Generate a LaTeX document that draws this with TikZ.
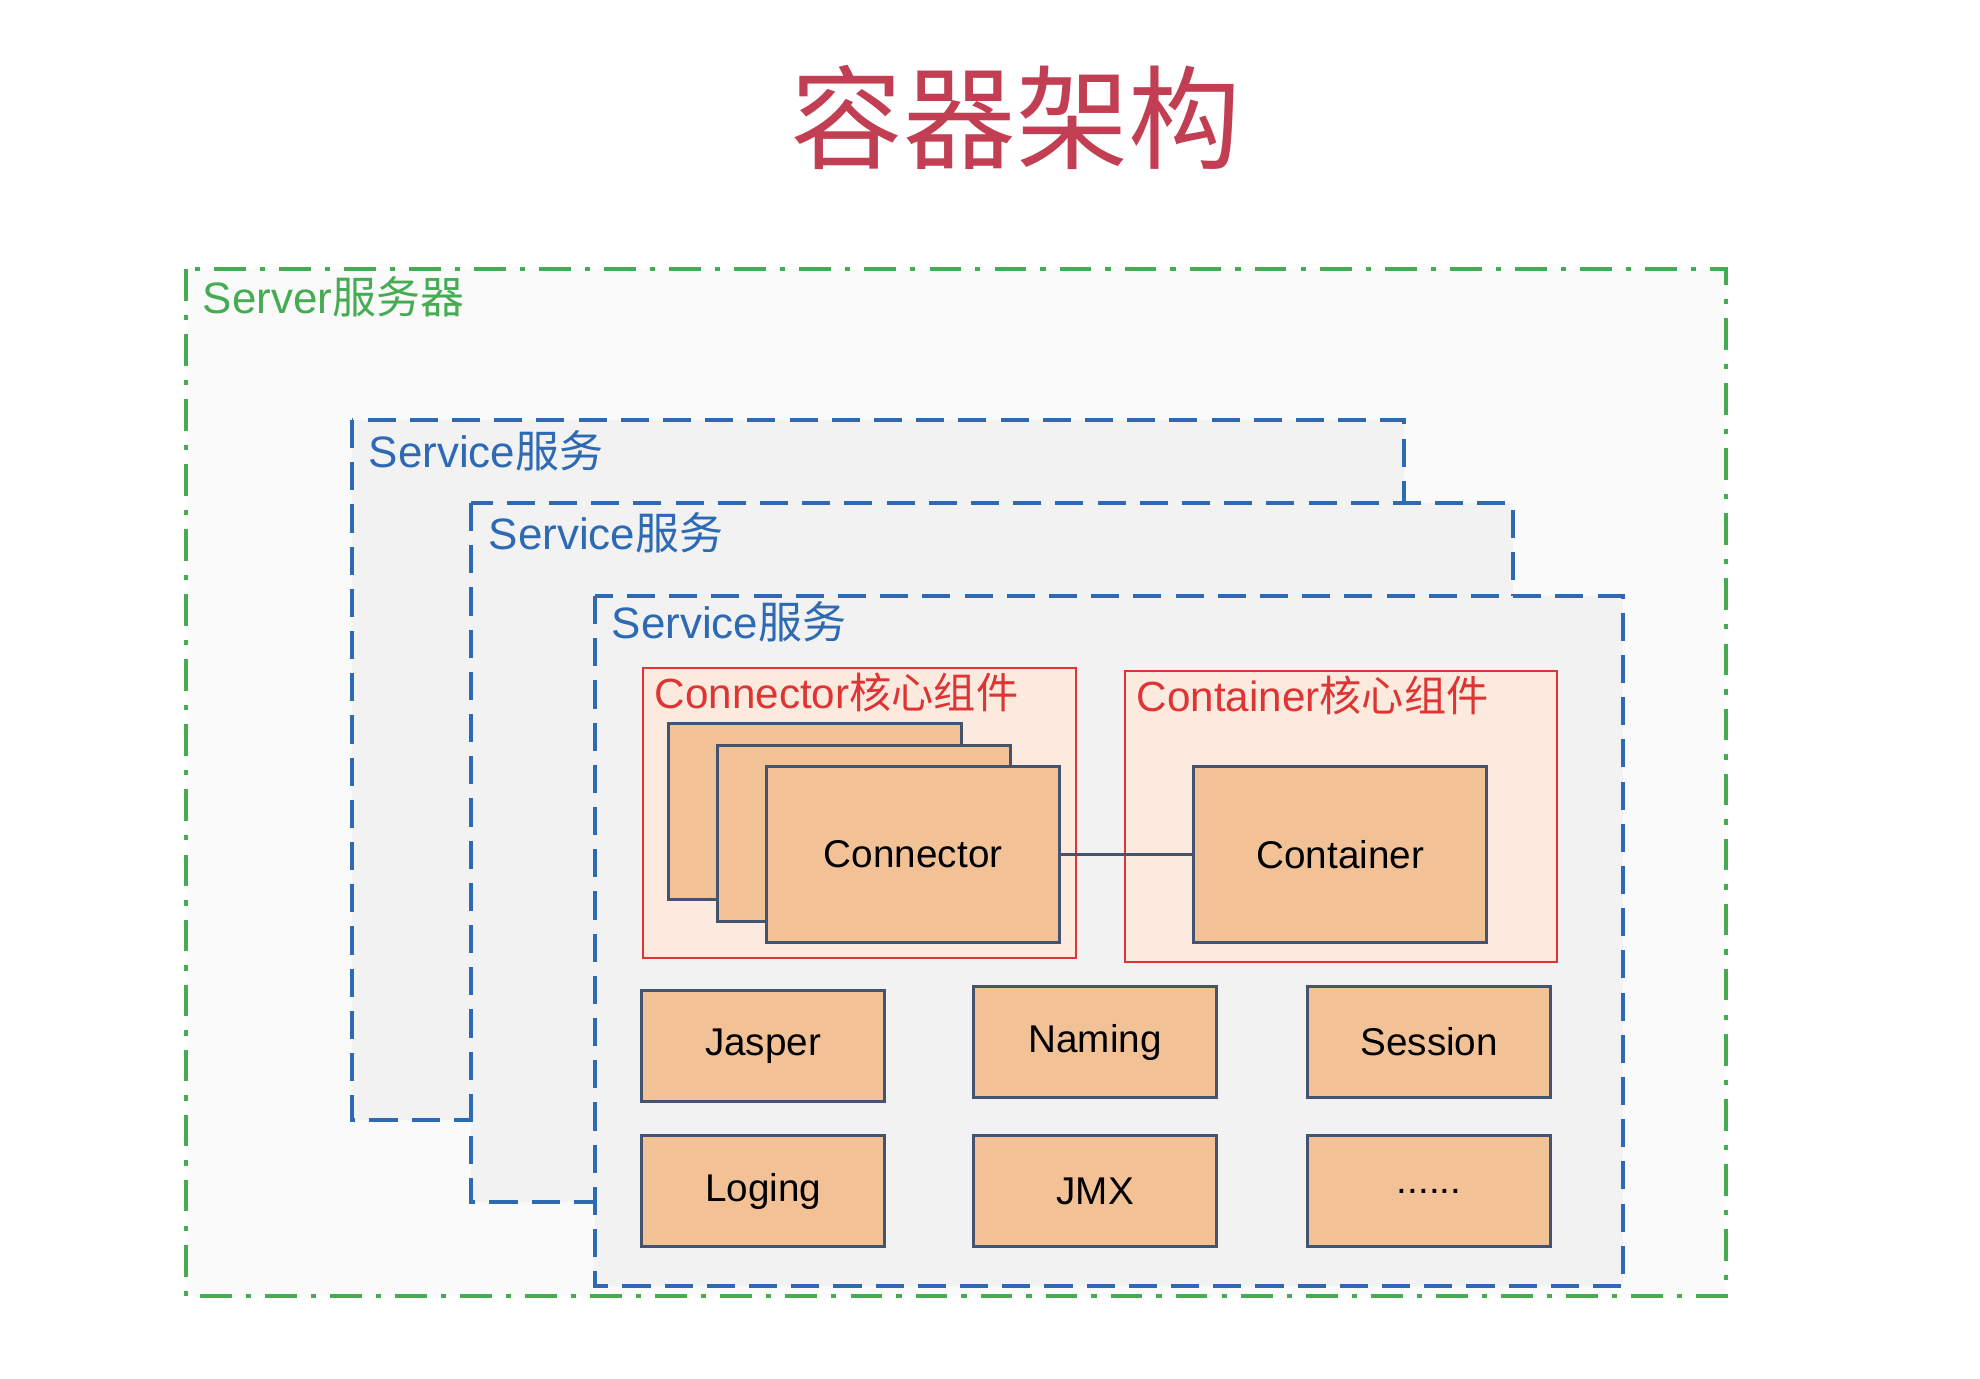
\documentclass[tikz,border=0pt]{standalone}
\usepackage{fontspec}
\setmainfont{Liberation Sans}
\newfontfamily\cjk{Noto Sans CJK SC}
\usetikzlibrary{positioning}
\definecolor{titlered}{RGB}{194,62,82}
\definecolor{srvgreen}{RGB}{70,172,84}
\definecolor{srvfill}{RGB}{250,250,250}
\definecolor{svcblue}{RGB}{46,106,180}
\definecolor{svcfill}{RGB}{242,242,242}
\definecolor{corered}{RGB}{222,52,52}
\definecolor{corefill}{RGB}{252,234,222}
\definecolor{compfill}{RGB}{242,194,150}
\definecolor{compline}{RGB}{68,84,110}

\begin{document}
\begin{tikzpicture}[x=0.01cm, y=-0.01cm, font=\fontsize{11}{13}\selectfont]
\tikzstyle{server} = [draw=srvgreen, fill=srvfill, line width=1pt, dash pattern=on 9pt off 4pt on 1.5pt off 4pt]
\tikzstyle{service} = [draw=svcblue, fill=svcfill, line width=1.3pt, dash pattern=on 8pt off 4pt]
\tikzstyle{core} = [draw=corered, fill=corefill, line width=0.7pt]
\tikzstyle{comp} = [draw=compline, fill=compfill, line width=0.9pt, anchor=north west, inner sep=0pt]
\tikzstyle{unit} = [comp, minimum width=2.43cm, minimum height=1.11cm]
\tikzstyle{bigunit} = [comp, minimum width=2.93cm, minimum height=1.76cm]
\tikzstyle{boxlabel} = [anchor=west, inner sep=0pt, font=\fontsize{12.5}{15}\selectfont]

\useasboundingbox (0,0) rectangle (1980,1378);

\node[text=titlered, font=\cjk\fontsize{32}{38}\selectfont] (title) at (1016,117) {容器架构};

% server
\draw[server] (186,269) rectangle (1726,1296);
\node[boxlabel, text=srvgreen] (srvlabel) at (202,297) {Server{\cjk 服务器}};

% services
\draw[service] (352,420) rectangle (1404,1120);
\node[boxlabel, text=svcblue] (svclabel1) at (368,451) {Service{\cjk 服务}};
\draw[service] (471,503) rectangle (1513,1202);
\node[boxlabel, text=svcblue] (svclabel2) at (488,533) {Service{\cjk 服务}};
\draw[service] (595,596) rectangle (1623,1286);
\node[boxlabel, text=svcblue] (svclabel3) at (611,622) {Service{\cjk 服务}};

% core components
\draw[core] (643,668) rectangle (1076,958);
\node[boxlabel, text=corered, font=\fontsize{12}{14}\selectfont] (connlabel) at (654,692) {Connector{\cjk 核心组件}};
\draw[core] (1125,671) rectangle (1557,962);
\node[boxlabel, text=corered, font=\fontsize{12}{14}\selectfont] (contlabel) at (1136,695) {Container{\cjk 核心组件}};

\node[bigunit] (conn3) at (667,722) {};
\node[bigunit] (conn2) at (716,744) {};
\node[bigunit] (conn) at (765,765) {Connector};
\node[bigunit] (cont) at (1192,765) {Container};
\draw[compline, line width=0.8pt] (conn.east) -- (cont.west);

% other components
\node[unit] (jasper) at (640,989) {Jasper};
\node[unit] (naming) at (972,985) {Naming};
\node[unit] (session) at (1306,985) {Session};
\node[unit] (loging) at (640,1134) {Loging};
\node[unit] (jmx) at (972,1134) {JMX};
\node[unit] (more) at (1306,1134) {......};

\end{tikzpicture}
\end{document}
